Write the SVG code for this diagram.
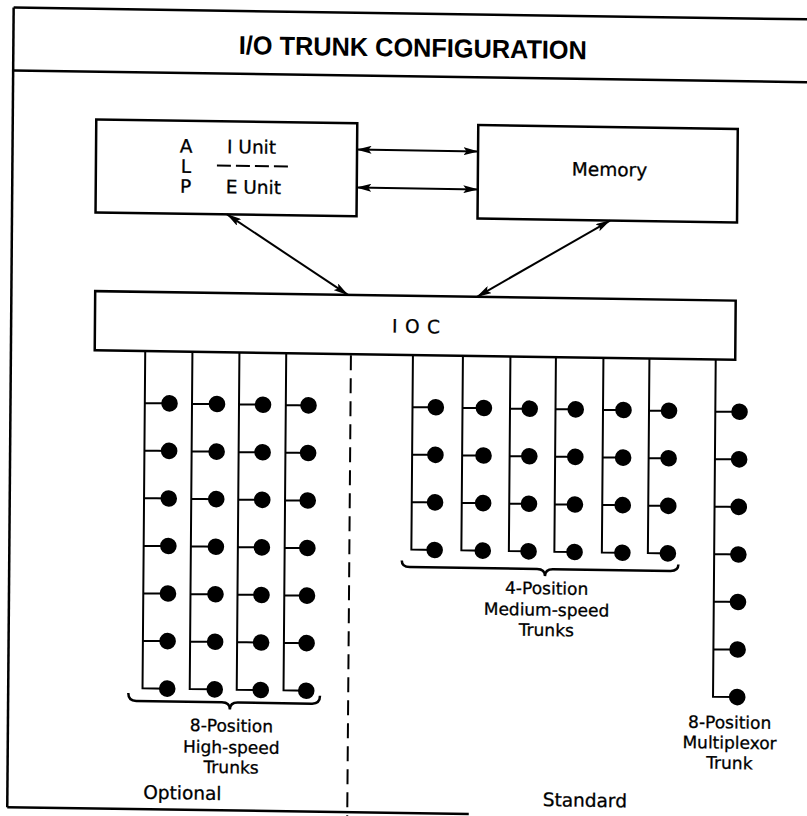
<svg xmlns="http://www.w3.org/2000/svg" width="807" height="816" viewBox="0 0 807 816">
<style>
 .ln{fill:none;stroke:#000;stroke-width:2.5}
 .tr{fill:none;stroke:#000;stroke-width:2}
 .dot{fill:#000}
 .t{font-family:"DejaVu Sans","Liberation Sans",sans-serif;font-size:18.5px;fill:#000;stroke:#000;stroke-width:0.3}
 .s{font-size:17px}
 .c{text-anchor:middle}
 .ttl{font-family:"Liberation Sans",Arial,sans-serif;font-weight:bold;font-size:26px;text-anchor:middle;fill:#000}
 .ar{fill:none;stroke:#000;stroke-width:2;marker-start:url(#ah);marker-end:url(#ah)}
 .br{fill:none;stroke:#000;stroke-width:2.5}
</style>
<defs>
 <marker id="ah" viewBox="0 0 15 8" refX="14.5" refY="4" markerWidth="15" markerHeight="8" markerUnits="userSpaceOnUse" orient="auto-start-reverse">
  <path d="M0,0 L15,4 L0,8 L3,4 z" fill="#000"/>
 </marker>
</defs>
<rect width="807" height="816" fill="#fff"/>
<g transform="matrix(1 0.0148 -0.008 1 3.264 -5.964)">
 <g id="frame" class="ln">
  <path d="M10.5,13.4 H825"/>
  <path d="M10.5,76.2 H825"/>
  <path d="M10.5,13.4 V813"/>
  <path d="M10.5,813 H472"/>
 </g>
 <g id="title">
  <text class="ttl" x="410" y="56.5" textLength="348" lengthAdjust="spacingAndGlyphs">I/O TRUNK CONFIGURATION</text>
 </g>
 <g id="alp">
  <rect class="ln" x="94" y="124" width="261" height="93"/>
  <text class="t c" x="184" y="155.8">A</text>
  <text class="t c" x="184" y="176.2">L</text>
  <text class="t c" x="184" y="196">P</text>
  <text class="t" x="225" y="155.8">I Unit</text>
  <path class="tr" d="M215,168.2 H288" stroke-dasharray="14 5"/>
  <text class="t" x="224" y="196">E Unit</text>
 </g>
 <g id="memory">
  <rect class="ln" x="476" y="124" width="259.5" height="93.5"/>
  <text class="t c" x="607.6" y="173">Memory</text>
 </g>
 <g id="ioc">
  <rect class="ln" x="94.3" y="295.7" width="640.5" height="59.2"/>
  <text class="t c" x="415.4" y="332.8" textLength="48">I O C</text>
 </g>
 <g id="connectors">
  <path class="ar" d="M355,150.3 H476"/>
  <path class="ar" d="M355,188.3 H476"/>
  <path class="ar" d="M225.5,217 L347.1,295.7"/>
  <path class="ar" d="M608.5,217.5 L476.1,295.7"/>
 </g>
 <g id="divider">
  <path class="tr" d="M350.5,356 V822" stroke-dasharray="15 8"/>
 </g>
 <g id="hs-trunk-1">
  <path class="tr" d="M144.8,355 V692.1 H169.5 M144.8,406.8 H169.5 M144.8,454.35 H169.5 M144.8,501.9 H169.5 M144.8,549.45 H169.5 M144.8,597 H169.5 M144.8,644.55 H169.5"/>
  <g class="dot"><circle cx="169.5" cy="406.8" r="8.3"/><circle cx="169.5" cy="454.35" r="8.3"/><circle cx="169.5" cy="501.9" r="8.3"/><circle cx="169.5" cy="549.45" r="8.3"/><circle cx="169.5" cy="597" r="8.3"/><circle cx="169.5" cy="644.55" r="8.3"/><circle cx="169.5" cy="692.1" r="8.3"/></g>
 </g>
 <g id="hs-trunk-2">
  <path class="tr" d="M192,355 V692.1 H217 M192,406.8 H217 M192,454.35 H217 M192,501.9 H217 M192,549.45 H217 M192,597 H217 M192,644.55 H217"/>
  <g class="dot"><circle cx="217" cy="406.8" r="8.3"/><circle cx="217" cy="454.35" r="8.3"/><circle cx="217" cy="501.9" r="8.3"/><circle cx="217" cy="549.45" r="8.3"/><circle cx="217" cy="597" r="8.3"/><circle cx="217" cy="644.55" r="8.3"/><circle cx="217" cy="692.1" r="8.3"/></g>
 </g>
 <g id="hs-trunk-3">
  <path class="tr" d="M239,355 V692.1 H263 M239,406.8 H263 M239,454.35 H263 M239,501.9 H263 M239,549.45 H263 M239,597 H263 M239,644.55 H263"/>
  <g class="dot"><circle cx="263" cy="406.8" r="8.3"/><circle cx="263" cy="454.35" r="8.3"/><circle cx="263" cy="501.9" r="8.3"/><circle cx="263" cy="549.45" r="8.3"/><circle cx="263" cy="597" r="8.3"/><circle cx="263" cy="644.55" r="8.3"/><circle cx="263" cy="692.1" r="8.3"/></g>
 </g>
 <g id="hs-trunk-4">
  <path class="tr" d="M285.8,355 V692.1 H308.5 M285.8,406.8 H308.5 M285.8,454.35 H308.5 M285.8,501.9 H308.5 M285.8,549.45 H308.5 M285.8,597 H308.5 M285.8,644.55 H308.5"/>
  <g class="dot"><circle cx="308.5" cy="406.8" r="8.3"/><circle cx="308.5" cy="454.35" r="8.3"/><circle cx="308.5" cy="501.9" r="8.3"/><circle cx="308.5" cy="549.45" r="8.3"/><circle cx="308.5" cy="597" r="8.3"/><circle cx="308.5" cy="644.55" r="8.3"/><circle cx="308.5" cy="692.1" r="8.3"/></g>
 </g>
 <g id="hs-label">
  <path class="br" d="M130.6,697 Q130.6,705 138.6,705 H224.3 Q232.3,705 232.3,712 Q232.3,705 240.3,705 H314.3 Q322.3,705 322.3,697"/>
  <text class="t s c" x="234" y="734.2">8-Position</text>
  <text class="t s c" x="234" y="755.8">High-speed</text>
  <text class="t s c" x="234" y="775.8">Trunks</text>
  <text class="t" x="146.4" y="802.6">Optional</text>
 </g>
 <g id="ms-trunk-1">
  <path class="tr" d="M412.5,355 V549.45 H435.8 M412.5,406.8 H435.8 M412.5,454.35 H435.8 M412.5,501.9 H435.8"/>
  <g class="dot"><circle cx="435.8" cy="406.8" r="8.3"/><circle cx="435.8" cy="454.35" r="8.3"/><circle cx="435.8" cy="501.9" r="8.3"/><circle cx="435.8" cy="549.45" r="8.3"/></g>
 </g>
 <g id="ms-trunk-2">
  <path class="tr" d="M462.5,355 V549.45 H483.9 M462.5,406.8 H483.9 M462.5,454.35 H483.9 M462.5,501.9 H483.9"/>
  <g class="dot"><circle cx="483.9" cy="406.8" r="8.3"/><circle cx="483.9" cy="454.35" r="8.3"/><circle cx="483.9" cy="501.9" r="8.3"/><circle cx="483.9" cy="549.45" r="8.3"/></g>
 </g>
 <g id="ms-trunk-3">
  <path class="tr" d="M510,355 V549.45 H529.7 M510,406.8 H529.7 M510,454.35 H529.7 M510,501.9 H529.7"/>
  <g class="dot"><circle cx="529.7" cy="406.8" r="8.3"/><circle cx="529.7" cy="454.35" r="8.3"/><circle cx="529.7" cy="501.9" r="8.3"/><circle cx="529.7" cy="549.45" r="8.3"/></g>
 </g>
 <g id="ms-trunk-4">
  <path class="tr" d="M555.5,355 V549.45 H575.7 M555.5,406.8 H575.7 M555.5,454.35 H575.7 M555.5,501.9 H575.7"/>
  <g class="dot"><circle cx="575.7" cy="406.8" r="8.3"/><circle cx="575.7" cy="454.35" r="8.3"/><circle cx="575.7" cy="501.9" r="8.3"/><circle cx="575.7" cy="549.45" r="8.3"/></g>
 </g>
 <g id="ms-trunk-5">
  <path class="tr" d="M603,355 V549.45 H623.5 M603,406.8 H623.5 M603,454.35 H623.5 M603,501.9 H623.5"/>
  <g class="dot"><circle cx="623.5" cy="406.8" r="8.3"/><circle cx="623.5" cy="454.35" r="8.3"/><circle cx="623.5" cy="501.9" r="8.3"/><circle cx="623.5" cy="549.45" r="8.3"/></g>
 </g>
 <g id="ms-trunk-6">
  <path class="tr" d="M649,355 V549.45 H669 M649,406.8 H669 M649,454.35 H669 M649,501.9 H669"/>
  <g class="dot"><circle cx="669" cy="406.8" r="8.3"/><circle cx="669" cy="454.35" r="8.3"/><circle cx="669" cy="501.9" r="8.3"/><circle cx="669" cy="549.45" r="8.3"/></g>
 </g>
 <g id="ms-label">
  <path class="br" d="M403,560.5 Q403,567 411,567 H538.3 Q546.3,567 546.3,574 Q546.3,567 554.3,567 H671.6 Q679.6,567 679.6,560.5"/>
  <text class="t s c" x="548.1" y="592.2">4-Position</text>
  <text class="t s c" x="548.1" y="613.6">Medium-speed</text>
  <text class="t s c" x="548.1" y="633.9">Trunks</text>
 </g>
 <g id="mux-trunk">
  <path class="tr" d="M715.3,355 V692.1 H739.5 M715.3,406.8 H739.5 M715.3,454.35 H739.5 M715.3,501.9 H739.5 M715.3,549.45 H739.5 M715.3,597 H739.5 M715.3,644.55 H739.5"/>
  <g class="dot"><circle cx="739.5" cy="406.8" r="8.3"/><circle cx="739.5" cy="454.35" r="8.3"/><circle cx="739.5" cy="501.9" r="8.3"/><circle cx="739.5" cy="549.45" r="8.3"/><circle cx="739.5" cy="597" r="8.3"/><circle cx="739.5" cy="644.55" r="8.3"/><circle cx="739.5" cy="692.1" r="8.3"/></g>
  <text class="t s c" x="732.2" y="723.5">8-Position</text>
  <text class="t s c" x="732.2" y="743.8">Multiplexor</text>
  <text class="t s c" x="732.2" y="764.1">Trunk</text>
 </g>
 <g id="std-label">
  <text class="t" x="545.9" y="804">Standard</text>
 </g>
</g>
</svg>
